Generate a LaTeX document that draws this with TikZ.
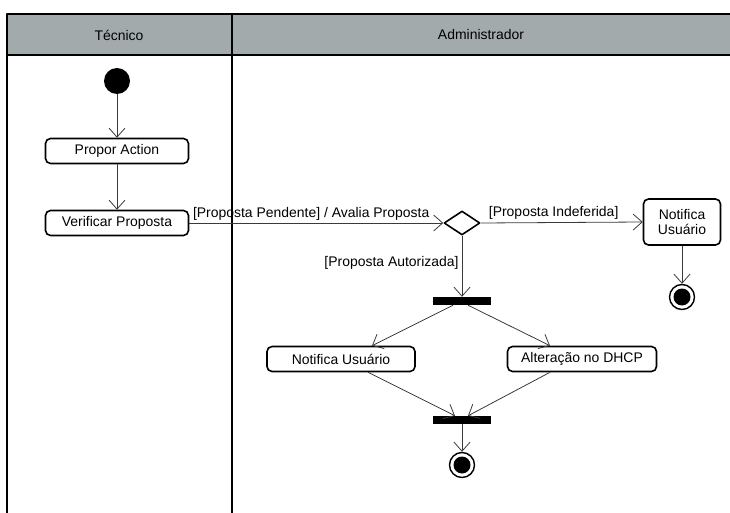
\documentclass[tikz,border=0pt]{standalone}
\usepackage{fontspec}
\setmainfont{Liberation Sans}
\usetikzlibrary{arrows.meta,shapes.geometric,positioning}
\definecolor{cabecalho}{HTML}{A3AAAB}
\definecolor{linha}{HTML}{3A3A3A}
\begin{document}
\begin{tikzpicture}[line join=round,>={Straight Barb[length=9bp,width=16bp]},x=1bp,y=-1bp]
    \tikzset{fonte/.style={font=\fontsize{14}{16}\selectfont},
        acao/.style={fonte,draw=black,line width=1.6bp,rounded corners=5bp,minimum height=25bp,inner sep=2bp},
        decisao/.style={diamond,draw=black,line width=1.6bp,minimum width=36bp,minimum height=24bp,inner sep=0pt},
        barra/.style={fill=black,minimum width=58bp,minimum height=8bp,inner sep=0pt},
        inicio/.style={circle,fill=black,minimum size=26bp,inner sep=0pt},
        fim/.style={circle,draw=black,line width=1.4bp,minimum size=25bp,inner sep=0pt,
            path picture={\fill[black] (path picture bounding box.center) circle (8.5bp);}},
        fluxo/.style={->,draw=linha,line width=0.8bp}}
    \def \ytopo{14}
    \def \ycab{55}
    \def \ybase{513}
    \useasboundingbox (0,0) rectangle (730,513);
    % raias
    \fill[cabecalho] (7,\ytopo) rectangle (730,\ycab);
    \draw[line width=2bp] (730,\ytopo) -- (7,\ytopo) -- (7,\ybase) (232,\ytopo) -- (232,\ybase) (7,\ycab) -- (730,\ycab);
    \node[fonte] (tecnico) at (119,35) {Técnico};
    \node[fonte] (admin) at (481,35) {Administrador};
    % atividades
    \node[inicio] (ini) at (117,81) {};
    \node[acao,minimum width=143bp] (propor) at (117,151) {Propor Action};
    \node[acao,minimum width=143bp] (verificar) at (117,223) {Verificar Proposta};
    \node[decisao] (dec) at (462,223) {};
    \node[acao,minimum width=77bp,minimum height=46bp,align=center] (notifA) at (682,222) {Notifica\\Usuário};
    \node[fim] (fimA) at (682,297) {};
    \node[barra] (fork) at (462,301) {};
    \node[acao,minimum width=148bp] (notifB) at (341,359) {Notifica Usuário};
    \node[acao,minimum width=149bp] (alter) at (582,359) {Alteração no DHCP};
    \node[barra] (join) at (462,420) {};
    \node[fim] (fimB) at (462,465) {};
    % transicoes
    \draw[fluxo] (ini) -- (propor);
    \draw[fluxo] (propor) -- (verificar);
    \draw[fluxo] (verificar.east) -- node[fonte,above,pos=0.48,inner sep=2bp] {[Proposta Pendente] / Avalia Proposta} (dec.west);
    \draw[fluxo] (dec.east) -- node[fonte,above,pos=0.45,inner sep=3bp] {[Proposta Indeferida]} (notifA.west);
    \draw[fluxo] (notifA) -- (fimA);
    \draw[fluxo] (dec.south) -- node[fonte,left,pos=0.44,inner sep=3bp] {[Proposta Autorizada]} (fork);
    \draw[fluxo] ([xshift=-9bp]fork.south) -- ([xshift=31bp]notifB.north);
    \draw[fluxo] ([xshift=6bp]fork.south) -- ([xshift=-32bp]alter.north);
    \draw[fluxo] ([xshift=27bp]notifB.south) -- ([xshift=-7bp]join.north);
    \draw[fluxo] ([xshift=-32bp]alter.south) -- ([xshift=6bp]join.north);
    \draw[fluxo] (join) -- (fimB);
\end{tikzpicture}
\end{document}
